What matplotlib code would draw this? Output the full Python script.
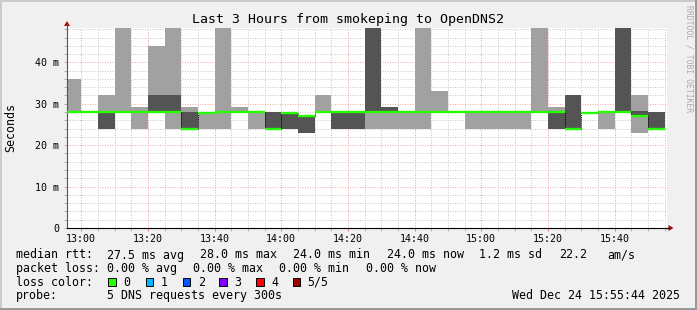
import numpy as np
import matplotlib
matplotlib.use("Agg")
import matplotlib.pyplot as plt
from matplotlib.patches import Rectangle, Polygon
from matplotlib.lines import Line2D
from matplotlib.transforms import Affine2D

# 5-minute steps, minutes since midnight (12:55 ... 15:50)
step_start = 775 + 5 * np.arange(36)

# smoke extent per step (ms): lightest band from ping_lo to ping_hi
ping_lo = [28, 28, 24, 28, 24, 28, 24, 24, 24, 24, 28, 24, 24, 24, 23, 28, 24, 24,
           24, 24, 24, 24, 28, 28, 24, 24, 24, 24, 28, 24, 24, 27.7, 24, 28, 23, 24]
ping_hi = [36, 28, 32, 60, 29.2, 44, 60, 29.2, 28, 60, 29.2, 28, 28, 27.7, 27, 32, 28, 28,
           60, 29.2, 28, 60, 33.2, 28, 28, 28, 28, 28, 60, 29.2, 32, 27.7, 28, 60, 32.1, 28]
# inner (darker) smoke band
dark_lo = [28, 28, 24, 28, 28, 28, 28, 24, 28, 28, 28, 28, 24, 24, 23, 28, 24, 24,
           28, 28, 28, 28, 28, 28, 28, 28, 28, 28, 28, 24, 24, 27.7, 28, 28, 27, 24]
dark_hi = [28, 28, 28, 28, 28, 32, 32.2, 28, 28, 28, 28, 28, 28, 27.7, 27, 28, 28, 28,
           60, 29.2, 28, 28, 28, 28, 28, 28, 28, 28, 28, 28, 32, 27.7, 28, 60, 28.3, 28]
median = [28, 28, 28, 28, 28, 28, 28, 24, 27.8, 28, 28, 28, 24, 27.7, 27, 28, 28, 28,
          28, 28, 28, 28, 28, 28, 28, 28, 28, 28, 28, 28, 24, 27.7, 28, 28, 27, 24]

y_ticks = [0, 10, 20, 30, 40]
y_labels = ["0", "10 m", "20 m", "30 m", "40 m"]
x_ticks = [780, 800, 820, 840, 860, 880, 900, 920, 940]
x_labels = ["13:00", "13:20", "13:40", "14:00", "14:20", "14:40", "15:00", "15:20", "15:40"]

rtt_stats = [("27.5 ms avg", 107.3), ("28.0 ms max", 200), ("24.0 ms min", 293.3),
             ("24.0 ms now", 386.7), ("1.2 ms sd", 479.3), ("22.2", 559), ("am/s", 607.3)]
loss_stats = [("0.00 % avg", 107.3), ("0.00 % max", 193.3), ("0.00 % min", 279.3),
              ("0.00 % now", 365.7)]
loss_names = ["0", "1", "2", "3", "4", "5/5"]
loss_colors = ["#26ff00", "#00b8ff", "#0059ff", "#7e00ff", "#ff0000", "#a00000"]

W, H = 697, 310
MONO = "DejaVu Sans Mono"
LIGHT = "#a1a1a1"
DARK = "#545454"

fig = plt.figure(figsize=(W / 100, H / 100), dpi=100, facecolor="#f0f0f0")
px = Affine2D().scale(1 / W, -1 / H).translate(0, 1) + fig.transFigure

ax = fig.add_axes([67 / W, 1 - 228 / H, 600 / W, 200 / H])
ax.set_facecolor("white")
ax.set_xlim(775 + 44 / 60, 955 + 44 / 60)
ax.set_ylim(0, 48.3)
ax.set_axisbelow(True)

lo = np.array(ping_lo)
hi = np.array(ping_hi)
ax.bar(step_start, hi - lo, bottom=lo, width=5, align="edge", color=LIGHT, linewidth=0)
dlo = np.array(dark_lo)
dhi = np.array(dark_hi)
ax.bar(step_start, dhi - dlo, bottom=dlo, width=5, align="edge", color=DARK, linewidth=0)

# median steps, black dotted where the median jumps
for i in range(1, len(median)):
    if abs(median[i] - median[i - 1]) > 0.5:
        ax.vlines(step_start[i], min(median[i], median[i - 1]), max(median[i], median[i - 1]),
                  colors="black", linestyles=(0, (1, 1)), lw=0.7, zorder=3)
ax.hlines(median, step_start, step_start + 5, colors="#26ff00", lw=1.7, zorder=4,
          capstyle="butt")

# grid
ax.set_xticks(x_ticks)
ax.set_xticklabels(x_labels, fontfamily=MONO, fontsize=7.2)
ax.set_xticks(np.arange(780, 956, 5), minor=True)
ax.set_yticks(y_ticks)
ax.set_yticklabels(y_labels, fontfamily=MONO, fontsize=7.2)
ax.set_yticks(np.arange(0, 48.3, 2), minor=True)
ax.grid(which="minor", color="#c8c8c8", ls=(0, (1, 1.5)), lw=0.72)
ax.grid(which="major", color="#f0a8a8", ls=(0, (1, 1.5)), lw=0.72)
ax.tick_params(which="both", direction="out", length=2, width=0.7)
ax.tick_params(axis="x", which="major", colors="#e08080", labelcolor="black", pad=2)
ax.tick_params(axis="x", which="minor", colors="#b0b0b0")
ax.tick_params(axis="y", which="both", colors="#b0b0b0", labelcolor="black", pad=3.5)

for s in ["top", "right"]:
    ax.spines[s].set_visible(False)
ax.spines["left"].set_color("#555555")
ax.spines["left"].set_linewidth(0.8)
ax.spines["bottom"].set_color("black")
ax.spines["bottom"].set_linewidth(0.8)

# axis arrows
fig.add_artist(Line2D([67, 67], [28, 24], transform=px, color="#555555", lw=0.8))
fig.add_artist(Polygon([[67, 21], [64, 26], [70, 26]], closed=True, transform=px,
                       color="#a01010", lw=0))
fig.add_artist(Line2D([667, 669], [228, 228], transform=px, color="black", lw=0.8))
fig.add_artist(Polygon([[673.5, 228], [668.5, 225], [668.5, 231]], closed=True, transform=px,
                       color="#a01010", lw=0))

# frame shading
fig.add_artist(Rectangle((0, 0), W, 2, transform=px, color="#cbcbcb", lw=0))
fig.add_artist(Rectangle((0, 0), 2, H, transform=px, color="#cbcbcb", lw=0))
fig.add_artist(Rectangle((W - 2, 0), 2, H, transform=px, color="#999999", lw=0))
fig.add_artist(Rectangle((0, H - 2), W, 2, transform=px, color="#999999", lw=0))

# title, axis label, watermark
fig.text(348, 23.3, "Last 3 Hours from smokeping to OpenDNS2", transform=px,
         ha="center", va="baseline", fontfamily=MONO, fontsize=9.5)
fig.text(11, 128, "Seconds", transform=px, rotation=90, ha="center", va="center",
         fontfamily=MONO, fontsize=8.4)
fig.text(688.5, 59, "RRDTOOL / TOBI OETIKER", transform=px, rotation=270,
         ha="center", va="center", fontfamily=MONO, fontsize=5.8, color="#aaaaaa")

# legend
leg = dict(transform=px, va="baseline", fontfamily=MONO, fontsize=8.4)
fig.text(16, 258.5, "median rtt:", **leg)
for txt, x in rtt_stats:
    fig.text(x, 258.5, txt, **leg)
fig.text(16, 272, "packet loss:", **leg)
for txt, x in loss_stats:
    fig.text(x, 272, txt, **leg)
fig.text(16, 285.5, "loss color:", **leg)
box_x = [108.3, 145.7, 182.7, 219.3, 256, 292.7]
for name, col, x in zip(loss_names, loss_colors, box_x):
    fig.add_artist(Rectangle((x, 277.5), 7.5, 8, transform=px, facecolor=col,
                             edgecolor="black", lw=0.7))
    fig.text(x + 15, 285.5, name, **leg)
fig.text(16, 299, "probe:", **leg)
fig.text(107.3, 299, "5 DNS requests every 300s", **leg)
fig.text(680, 299, "Wed Dec 24 15:55:44 2025", ha="right", **{k: v for k, v in leg.items()})

fig.savefig("out.png", dpi=100, facecolor=fig.get_facecolor())
